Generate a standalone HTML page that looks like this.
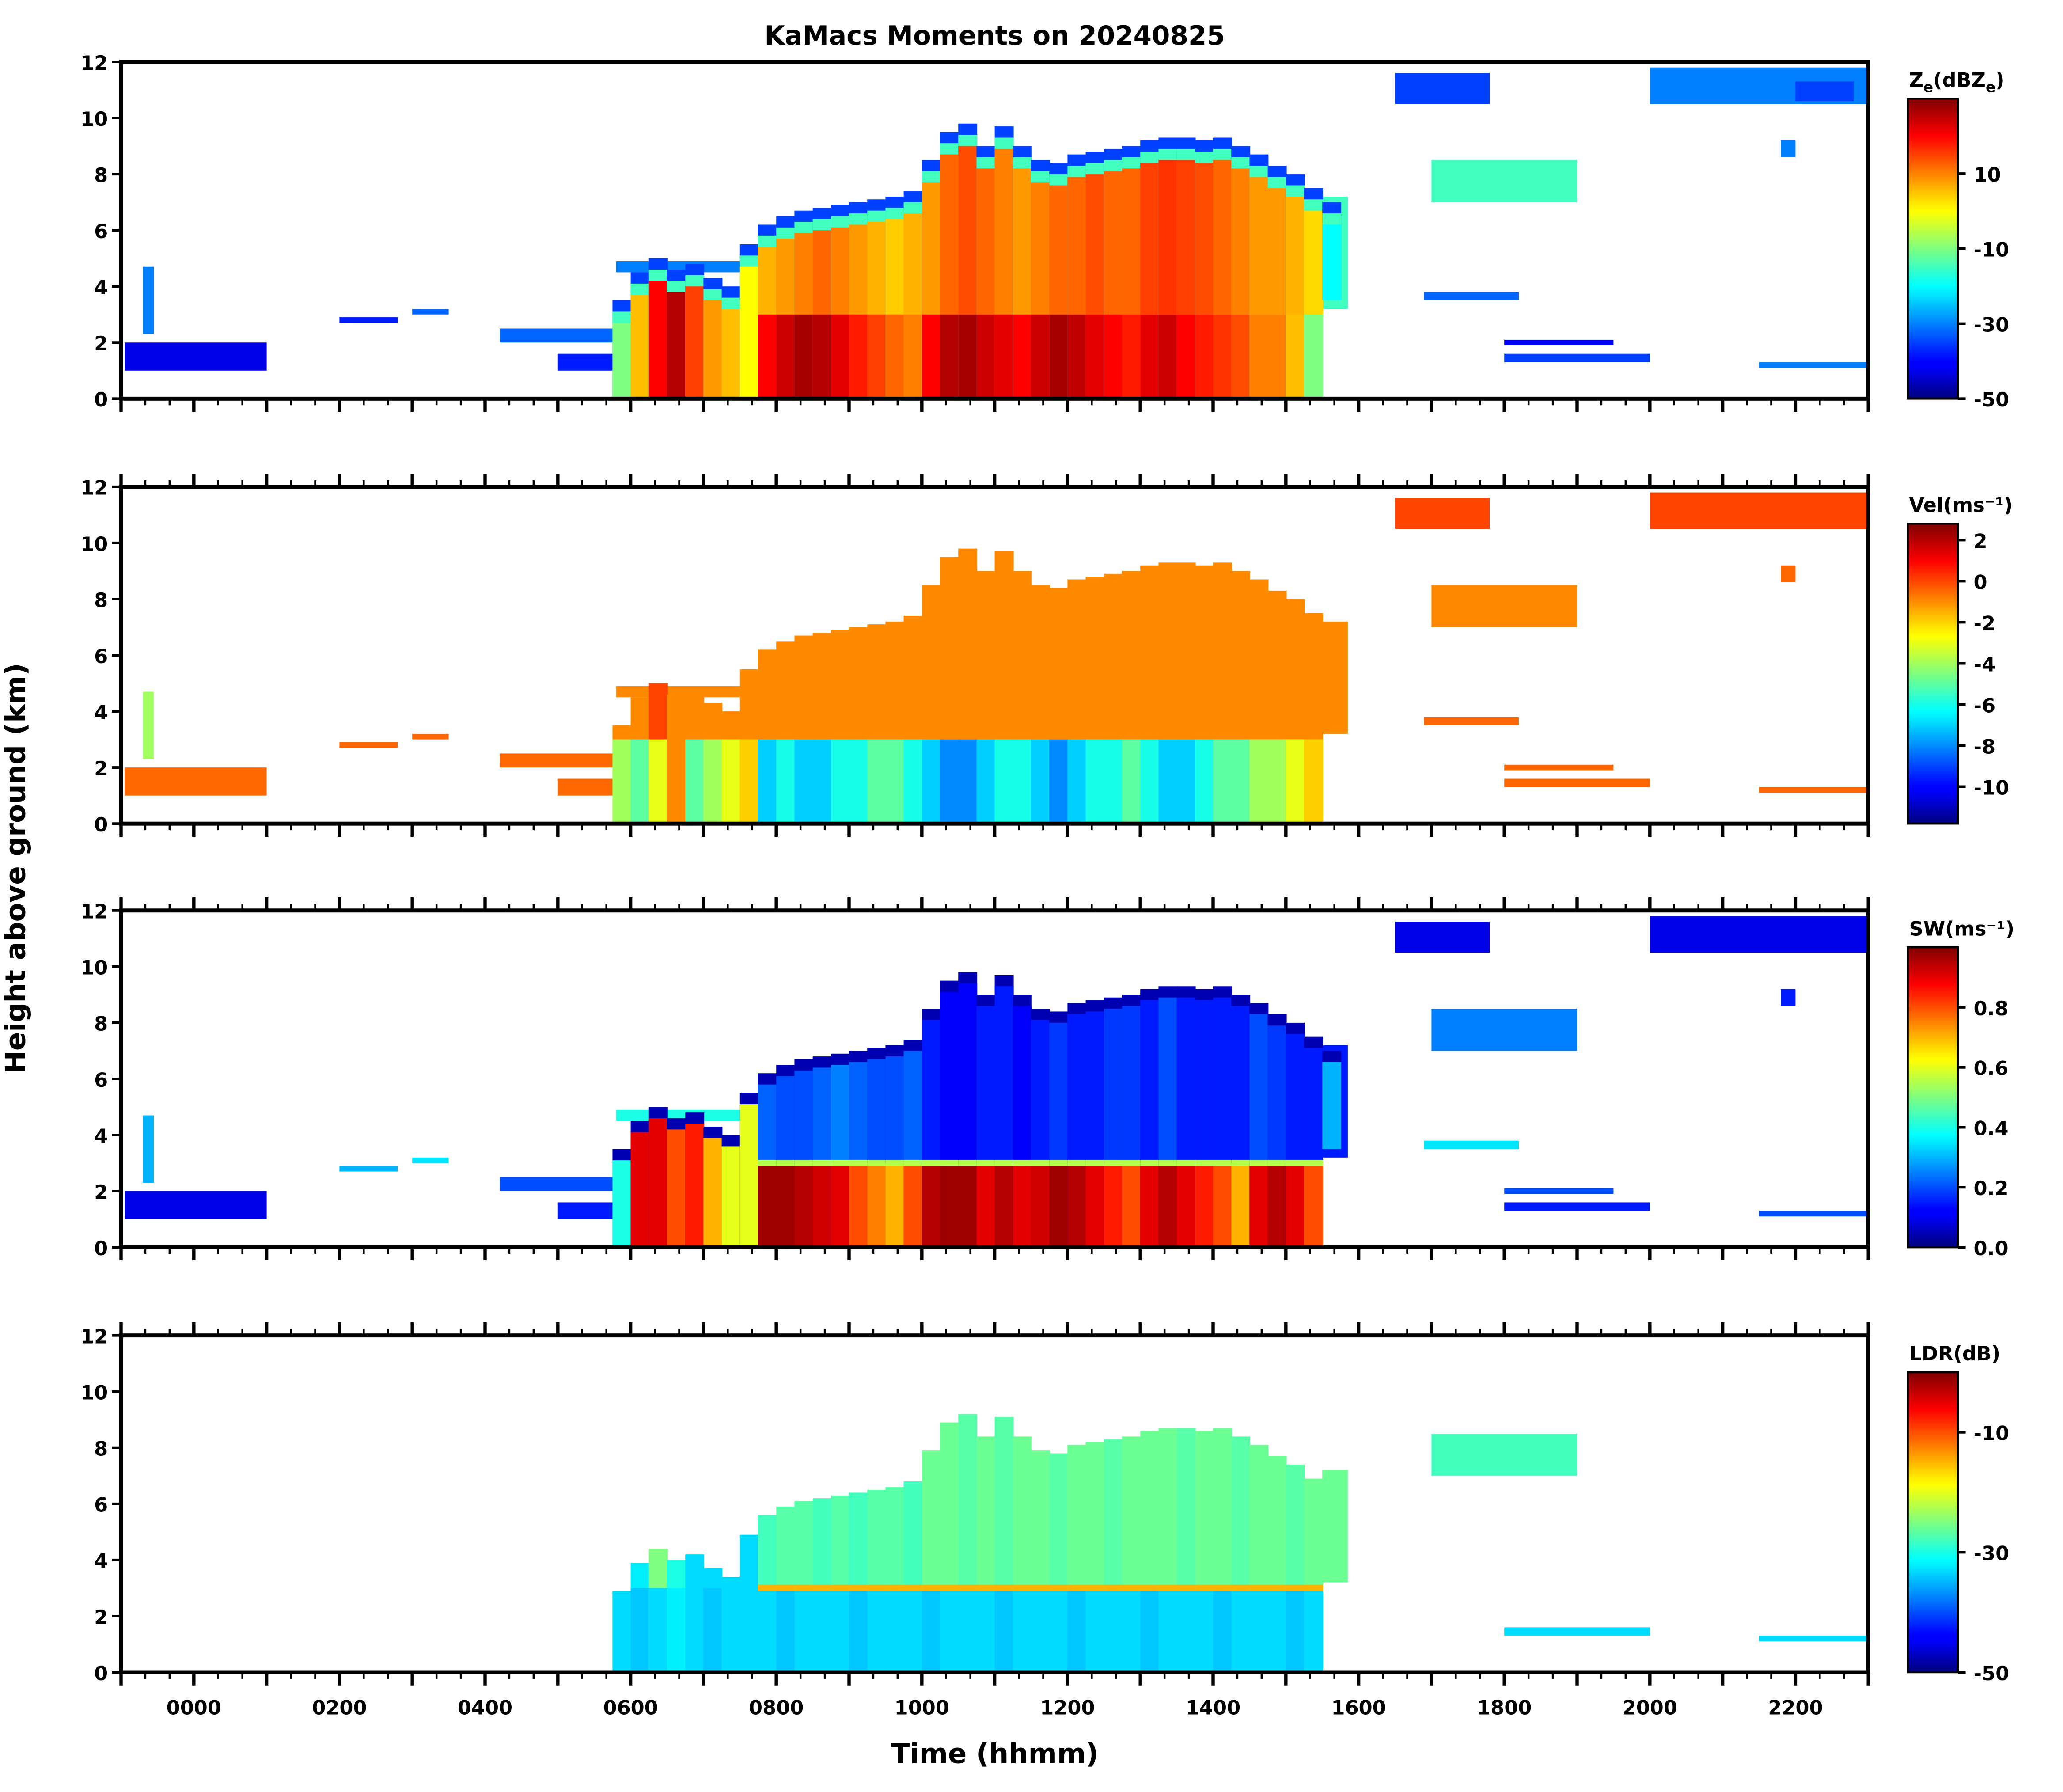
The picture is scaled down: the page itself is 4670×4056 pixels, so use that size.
<!DOCTYPE html>
<html><head><meta charset="utf-8"><style>
html,body{margin:0;padding:0;background:#fff;}
svg{display:block;font-family:"DejaVu Sans","Liberation Sans",sans-serif;font-weight:bold;}
</style></head><body>
<svg id="fig" width="4670" height="4056" viewBox="0 0 1568 1362" preserveAspectRatio="none" xmlns="http://www.w3.org/2000/svg">
<defs>
<linearGradient id="jet" x1="0" y1="1" x2="0" y2="0">
<stop offset="0" stop-color="#00007f"/><stop offset="0.11" stop-color="#0000ff"/><stop offset="0.125" stop-color="#0000ff"/>
<stop offset="0.34" stop-color="#00dfff"/><stop offset="0.375" stop-color="#00ffff"/><stop offset="0.5" stop-color="#7fff7f"/>
<stop offset="0.625" stop-color="#ffff00"/><stop offset="0.66" stop-color="#ffdf00"/><stop offset="0.875" stop-color="#ff0000"/>
<stop offset="1" stop-color="#7f0000"/></linearGradient>
</defs>
<text x="756" y="34" font-size="20" text-anchor="middle">KaMacs Moments on 20240825</text>
<text transform="translate(19,660) rotate(-90)" font-size="21" text-anchor="middle">Height above ground (km)</text>
<text x="756" y="1340" font-size="21" text-anchor="middle">Time (hhmm)</text>
<g id="plots"></g>
</svg>
<script>
// ---- data ----
const colTimes = [5.75,6,6.25,6.5,6.75,7,7.25,7.5,7.75,8,8.25,8.5,8.75,9,9.25,9.5,9.75,10,10.25,10.5,10.75,11,11.25,11.5,11.75,12,12.25,12.5,12.75,13,13.25,13.5,13.75,14,14.25,14.5,14.75,15,15.25,15.5];
const colTops = [3.5,4.5,5.0,4.6,4.8,4.3,4.0,5.5,6.2,6.5,6.7,6.8,6.9,7.0,7.1,7.2,7.4,8.5,9.5,9.8,9.0,9.7,9.0,8.5,8.4,8.7,8.8,8.9,9.0,9.2,9.3,9.3,9.2,9.3,9.0,8.7,8.3,8.0,7.5,7.0];
const colBases = [0,0,0,0,0,0,0,0,0,0,0,0,0,0,0,0,0,0,0,0,0,0,0,0,0,0,0,0,0,0,0,0,0,0,0,0,0,0,0,3.5];
const zeLower = [-10,5,20,26,15,8,5,0,20,24,27,26,22,18,15,12,10,20,26,27,24,22,20,24,27,25,22,20,18,22,24,20,18,16,14,10,10,5,-10,-20];
const zeUpper = [-10,5,12,14,10,5,0,-5,6,8,10,12,10,8,6,4,6,8,12,14,12,10,8,10,12,12,14,12,12,15,16,15,14,12,10,8,8,6,3,-5];
const velLower = [-4,-5,-3,-1,-5,-4,-3,-2,-7,-6,-7,-7,-6,-6,-5,-5,-6,-7,-8,-8,-7,-6,-6,-7,-8,-7,-6,-6,-5,-6,-7,-7,-6,-5,-5,-4,-4,-3,-2,-1];
const velUpper = [-1,-1,0,-1,-1,-1,-1,-1,-1,-1,-1,-1,-1,-1,-1,-1,-1,-1,-1,-1,-1,-1,-1,-1,-1,-1,-1,-1,-1,-1,-1,-1,-1,-1,-1,-1,-1,-1,-1,-1];
const swLower = [0.4,0.9,0.9,0.8,0.85,0.7,0.6,0.6,0.97,0.97,0.95,0.92,0.9,0.8,0.75,0.7,0.8,0.95,0.97,0.97,0.9,0.95,0.9,0.92,0.97,0.95,0.9,0.85,0.8,0.9,0.95,0.9,0.85,0.8,0.7,0.9,0.95,0.9,0.8,0.3];
const swUpper = [0.4,0.6,0.7,0.6,0.5,0.5,0.4,0.3,0.22,0.2,0.2,0.22,0.25,0.22,0.2,0.2,0.22,0.15,0.12,0.12,0.15,0.15,0.12,0.15,0.18,0.15,0.15,0.18,0.18,0.15,0.2,0.15,0.15,0.15,0.15,0.2,0.18,0.15,0.15,0.15];
const ldrLower = [-33,-34,-33,-32,-33,-34,-33,-33,-33,-34,-33,-33,-33,-34,-33,-33,-33,-34,-33,-33,-33,-34,-33,-33,-33,-34,-33,-33,-33,-34,-33,-33,-33,-34,-33,-33,-33,-34,-33,-33];
const ldrUpper = [-33,-32,-25,-30,-33,-33,-33,-33,-28,-27,-27,-28,-27,-28,-27,-27,-28,-26,-26,-27,-26,-27,-26,-26,-27,-26,-26,-27,-26,-26,-26,-27,-26,-26,-27,-26,-26,-27,-26,-26];
const meltHeight = 3.0;
// isolated features: start hour, end hour, base km, top km
const featStart = [-0.95,-0.7,2.0,3.0,4.2,5.0,15.5,16.5,17.0,16.9,18.0,18.0,20.0,21.5,22.0,21.8,5.8];
const featEnd   = [1.0,-0.55,2.8,3.5,5.9,5.9,15.85,17.8,19.0,18.2,20.0,19.5,23.0,23.0,22.8,22.0,7.6];
const featBase  = [1.0,2.3,2.7,3.0,2.0,1.0,3.2,10.5,7.0,3.5,1.3,1.9,10.5,1.1,10.6,8.6,4.5];
const featTop   = [2.0,4.7,2.9,3.2,2.5,1.6,7.2,11.6,8.5,3.8,1.6,2.1,11.8,1.3,11.3,9.2,4.9];
const featZe    = [-42,-30,-38,-32,-32,-38,-15,-35,-15,-32,-35,-40,-30,-30,-35,-30,-30];
const featVel   = [-0.5,-4,-0.5,-0.5,-0.5,-0.5,-1,0,-1,-0.5,-0.5,-0.5,0,-0.5,0,-0.5,-1];
const featSw    = [0.1,0.3,0.3,0.35,0.2,0.15,0.15,0.1,0.25,0.35,0.15,0.2,0.1,0.2,0.1,0.15,0.4];
const featLdr   = [null,null,null,null,null,null,-26,null,-28,null,-33,null,null,-33,null,null,null];
const yTicks = [0,2,4,6,8,10,12];
const xLabels = ["0000","0200","0400","0600","0800","1000","1200","1400","1600","1800","2000","2200"];
const xLabelHours = [0,2,4,6,8,10,12,14,16,18,20,22];
const cbTicksZe = [10,-10,-30,-50], cbTicksVel=[2,0,-2,-4,-6,-8,-10], cbTicksSw=[0.8,0.6,0.4,0.2,0.0], cbTicksLdr=[-10,-30,-50];

// ---- helpers ----
const NS="http://www.w3.org/2000/svg";
const root=document.getElementById('plots');
function mk(tag,attrs,parent){const e=document.createElementNS(NS,tag);for(const k in attrs)e.setAttribute(k,attrs[k]);(parent||root).appendChild(e);return e;}
function jet(v){const c=x=>Math.max(0,Math.min(1,x));v=c(v);
 const r=c(1.5-Math.abs(4*v-3)),g=c(1.5-Math.abs(4*v-2)),b=c(1.5-Math.abs(4*v-1));
 return `rgb(${Math.round(r*255)},${Math.round(g*255)},${Math.round(b*255)})`;}
const X0=92,X1=1420,T0=-1,T1=23;
function xs(t){return X0+(t-T0)*(X1-X0)/(T1-T0);}

const panels=[
 {name:'ze',top:47,min:-50,max:30,lower:zeLower,upper:zeUpper,feat:featZe,cb:cbTicksZe,label:'Z',edge:-35,edge2:-15},
 {name:'vel',top:370,min:-11.8,max:2.8,lower:velLower,upper:velUpper,feat:featVel,cb:cbTicksVel,label:'Vel(ms\u207B\u00B9)',edge:null},
 {name:'sw',top:692,min:0,max:1.0,lower:swLower,upper:swUpper,feat:featSw,cb:cbTicksSw,label:'SW(ms\u207B\u00B9)',edge:0.05},
 {name:'ldr',top:1015,min:-50,max:0,lower:ldrLower,upper:ldrUpper,feat:featLdr,cb:cbTicksLdr,label:'LDR(dB)',edge:null}
];
const H=256;
panels.forEach((p,pi)=>{
 const bot=p.top+H;
 const ys=h=>bot-h*H/12;
 const col=v=>jet((v-p.min)/(p.max-p.min));
 const g=mk('g',{});
 
 
 for(let i=0;i<featStart.length;i++){
  const v=p.feat[i]; if(v===null) continue;
  const r=mk('rect',{x:xs(featStart[i]),y:ys(featTop[i]),width:xs(featEnd[i])-xs(featStart[i]),height:ys(featBase[i])-ys(featTop[i]),fill:col(v)},g);
  
  
 }
 for(let i=0;i<colTimes.length;i++){
  const t0=colTimes[i],t1=t0+0.25;
  const w=xs(t1)-xs(t0)+0.6;
  let top=colTops[i], base=colBases[i];
  if(p.name==='ldr') top=Math.max(base+0.5,top-0.6);
  const addR=(h0,h1,v,nm)=>{if(h1<=h0)return;const r=mk('rect',{x:xs(t0),y:ys(h1),width:w,height:ys(h0)-ys(h1),fill:col(v)},g);
   
   };
  if(p.edge!==null&&p.edge!==undefined){addR(base,top,p.edge,'cloud-edge');}
  const inTop = (p.edge!==null&&p.edge!==undefined)? top-0.4 : top;
  if(p.edge2!==undefined) addR(base,inTop,p.edge2,'cloud-edge-inner');
  const upTop = p.edge2!==undefined? inTop-0.4 : inTop;
  if(t0>=7.75 && base<meltHeight){
   addR(meltHeight,upTop,p.upper[i],'upper-layer');
   addR(base,meltHeight,p.lower[i],'rain-layer');
   if(p.name==='ldr'||p.name==='sw'){
    const mv=p.name==='ldr'?-15:0.55;
    addR(meltHeight-0.1,meltHeight+0.12,mv,'melting-layer');
   }
  } else {
   addR(base,upTop,p.name==='ze'||p.name==='sw'?p.lower[i]:p.upper[i],'upper-layer');
   if(base<3 && p.name!=='ze' && p.name!=='sw') addR(base,Math.min(3,upTop),p.lower[i],'rain-layer');
  }
 }
 const fr=mk('rect',{x:X0,y:p.top,width:X1-X0,height:H,fill:'none',stroke:'#000','stroke-width':3},g);
 
 
 yTicks.forEach(v=>{
  mk('line',{x1:X0-7,x2:X0,y1:ys(v),y2:ys(v),stroke:'#000','stroke-width':2},g);
  const tx=mk('text',{x:X0-10,y:ys(v)+6,'font-size':15,'text-anchor':'end'},g);
  tx.textContent=v;
  
  
 });
 for(let m=-60;m<=23*60;m+=20){
  const t=m/60,x=xs(t);
  const major=m%60===0, len=major?10:5, sw=major?2.5:1.5;
  mk('line',{x1:x,x2:x,y1:bot,y2:bot+len,stroke:'#000','stroke-width':sw},g);
  if(pi>0) mk('line',{x1:x,x2:x,y1:p.top-len,y2:p.top,stroke:'#000','stroke-width':sw},g);
 }
 if(pi===3){
  xLabelHours.forEach((h,k)=>{
   const tx=mk('text',{x:xs(h),y:bot+32,'font-size':15,'text-anchor':'middle'},g);
   tx.textContent=xLabels[k];
   
   
  });
 }
 const cbT=p.top+28, cbB=bot, cx=1450, cw=38;
 const cb=mk('rect',{x:cx,y:cbT,width:cw,height:cbB-cbT,fill:'url(#jet)',stroke:'#000','stroke-width':1.5},g);
 
 
 p.cb.forEach(v=>{
  const y=cbB-(v-p.min)/(p.max-p.min)*(cbB-cbT);
  mk('line',{x1:cx+cw,x2:cx+cw+6,y1:y,y2:y,stroke:'#000','stroke-width':2},g);
  const tx=mk('text',{x:cx+cw+12,y:y+6,'font-size':15},g);
  tx.textContent=(p.name==='sw')?v.toFixed(1):v;
  
  
 });
 const lt=mk('text',{x:1451,y:cbT-9,'font-size':15},g);
 
 
 if(p.name==='ze'){lt.innerHTML='Z<tspan font-size="11" dy="4">e</tspan><tspan dy="-4">(dBZ</tspan><tspan font-size="11" dy="4">e</tspan><tspan dy="-4">)</tspan>';}
 else lt.textContent=p.label;
});
</script>
</body></html>
